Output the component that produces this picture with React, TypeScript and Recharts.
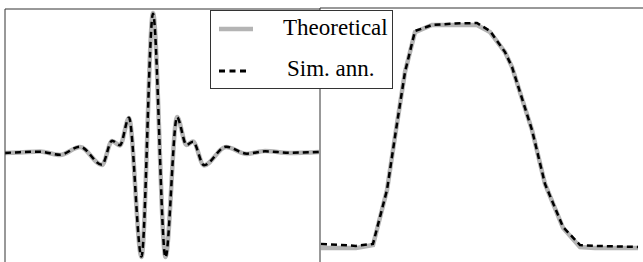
import React from "react";
import { LineChart, Line, XAxis, YAxis, Legend } from "recharts";

// ---------- Left panel: time-domain wavelet ----------
const LEFT_T = [0, 15, 35, 55, 75, 97, 107, 115, 124, 136.5, 148, 160.5, 172, 181.5, 188, 199, 221, 242, 260, 285, 314];
const LEFT_THEORY = [0, 0.004, 0.011, -0.014, 0.043, -0.086, 0.086, 0.054, 0.25, -0.743, 1.0, -0.743, 0.257, 0.057, 0.082, -0.089, 0.043, -0.007, 0.014, 0, 0.007];
const LEFT_SIM = [0, 0.006, 0.009, -0.012, 0.045, -0.084, 0.088, 0.056, 0.252, -0.74, 0.995, -0.745, 0.255, 0.059, 0.08, -0.087, 0.045, -0.005, 0.012, 0.002, 0.008];

// ---------- Right panel: spectrum ----------
const RIGHT_F = [1, 36, 53, 67, 76, 85, 95, 112, 135, 157, 170, 185, 192, 212, 225, 243, 260, 275, 318];
const RIGHT_THEORY = [-0.005, -0.005, 0.009, 0.257, 0.527, 0.788, 0.968, 1.0, 1.0, 1.0, 0.968, 0.878, 0.811, 0.527, 0.284, 0.086, 0.0, -0.005, -0.005];
const RIGHT_SIM = [0.014, 0.005, 0.014, 0.257, 0.527, 0.788, 0.973, 1.0, 1.007, 1.009, 0.973, 0.878, 0.811, 0.527, 0.284, 0.09, 0.009, 0.005, 0.0];

const SERIES_NAMES = ["Theoretical", "Sim. ann."];

const leftData = LEFT_T.map((t, i) => ({ t, theory: LEFT_THEORY[i], sim: LEFT_SIM[i] }));
const rightData = RIGHT_F.map((f, i) => ({ f, theory: RIGHT_THEORY[i], sim: RIGHT_SIM[i] }));

const GRAY = "#b4b4b4";
const FRAME = "#333333";
const FONT = "\"Liberation Serif\", \"Times New Roman\", serif";

const LegendBox = () => (
  <div
    style={{
      position: "relative",
      width: 183,
      height: 79,
      boxSizing: "border-box",
      border: `1px solid ${FRAME}`,
      background: "#fff",
      fontFamily: FONT,
      fontSize: 23,
      lineHeight: "23px",
      color: "#000",
    }}
  >
    <svg style={{ position: "absolute", left: 7, top: 13 }} width={36} height={10}>
      <line x1={1} y1={5} x2={35} y2={5} stroke={GRAY} strokeWidth={4.5} />
    </svg>
    <svg style={{ position: "absolute", left: 7, top: 55 }} width={36} height={10}>
      <line x1={1} y1={5} x2={32} y2={5} stroke="#000" strokeWidth={3} strokeDasharray="6 4.5" />
    </svg>
    <div style={{ position: "absolute", left: 72, top: 5, whiteSpace: "nowrap" }}>{SERIES_NAMES[0]}</div>
    <div style={{ position: "absolute", left: 76, top: 46, whiteSpace: "nowrap" }}>{SERIES_NAMES[1]}</div>
  </div>
);

export default function App() {
  return (
    <div style={{ position: "absolute", left: 0, top: 0, width: 643, height: 262, background: "#fff", overflow: "hidden" }}>
      <div style={{ position: "absolute", left: 0, top: 0 }}>
        <LineChart width={320} height={262} data={leftData} margin={{ top: 8, right: 0, bottom: 0, left: 4 }}>
          <XAxis
            dataKey="t"
            type="number"
            domain={[0, 315]}
            orientation="top"
            height={1}
            tick={false}
            tickLine={false}
            axisLine={{ stroke: FRAME, strokeWidth: 1 }}
            allowDataOverflow
          />
          <YAxis
            type="number"
            domain={[-0.7786, 1.0286]}
            width={1}
            tick={false}
            tickLine={false}
            axisLine={{ stroke: FRAME, strokeWidth: 1 }}
            allowDataOverflow
          />
          <Line
            type="monotone"
            dataKey="theory"
            name={SERIES_NAMES[0]}
            stroke={GRAY}
            strokeWidth={4.5}
            dot={false}
            isAnimationActive={false}
          />
          <Line
            type="monotone"
            dataKey="sim"
            name={SERIES_NAMES[1]}
            stroke="#000"
            strokeWidth={2.5}
            strokeDasharray="6 4"
            dot={false}
            isAnimationActive={false}
          />
        </LineChart>
      </div>
      <div style={{ position: "absolute", left: 319, top: 0 }}>
        <LineChart width={324} height={262} data={rightData} margin={{ top: 7, right: 0, bottom: 0, left: 0 }}>
          <XAxis
            dataKey="f"
            type="number"
            domain={[0, 323]}
            orientation="top"
            height={1}
            tick={false}
            tickLine={false}
            axisLine={{ stroke: FRAME, strokeWidth: 1 }}
            allowDataOverflow
          />
          <YAxis
            type="number"
            domain={[-0.0676, 1.0766]}
            width={1}
            tick={false}
            tickLine={false}
            axisLine={{ stroke: FRAME, strokeWidth: 1 }}
            allowDataOverflow
          />
          <Legend
            layout="horizontal"
            verticalAlign="middle"
            align="center"
            content={() => <LegendBox />}
            wrapperStyle={{ left: -109, top: 10, width: 183, height: 79 }}
          />
          <Line
            type="linear"
            dataKey="theory"
            name={SERIES_NAMES[0]}
            stroke={GRAY}
            strokeWidth={4.5}
            dot={false}
            isAnimationActive={false}
          />
          <Line
            type="linear"
            dataKey="sim"
            name={SERIES_NAMES[1]}
            stroke="#000"
            strokeWidth={2.5}
            strokeDasharray="6 4"
            dot={false}
            isAnimationActive={false}
          />
        </LineChart>
      </div>
    </div>
  );
}
